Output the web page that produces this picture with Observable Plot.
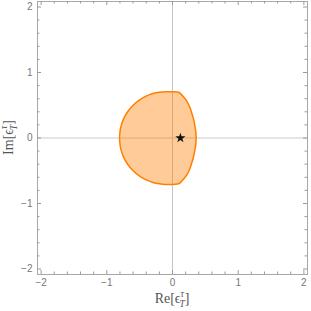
<!DOCTYPE html>
<html><head><meta charset="utf-8">
<script src="https://cdn.jsdelivr.net/npm/d3@7"></script>
<script src="https://cdn.jsdelivr.net/npm/@observablehq/plot@0.6"></script>
<style>body{margin:0;background:#fff} svg{display:block}</style>
</head><body><div id="chart"></div>
<script>
// Region boundary (Re, Im), traced clockwise from the leftmost point
const reBoundary = [-0.807,-0.79,-0.75,-0.68,-0.60,-0.50,-0.40,-0.30,-0.20,-0.10,0.00,0.07,0.10,0.13,0.17,0.22,0.26,0.29,0.32,0.34,0.355,0.36,
  0.355,0.34,0.32,0.29,0.26,0.22,0.17,0.13,0.10,0.07,0.00,-0.10,-0.20,-0.30,-0.40,-0.50,-0.60,-0.68,-0.75,-0.79,-0.807];
const imBoundary = [0,0.155,0.28,0.405,0.50,0.583,0.64,0.678,0.70,0.707,0.707,0.703,0.695,0.67,0.625,0.56,0.48,0.39,0.29,0.19,0.09,0,
  -0.09,-0.19,-0.29,-0.39,-0.48,-0.56,-0.625,-0.67,-0.695,-0.703,-0.71,-0.71,-0.70,-0.678,-0.64,-0.583,-0.50,-0.405,-0.28,-0.155,0];
const starRe = [0.12];
const starIm = [0];
const majorTicks = [-2,-1,0,1,2];
const minorTicks = [-1.8,-1.6,-1.4,-1.2,-0.8,-0.6,-0.4,-0.2,0.2,0.4,0.6,0.8,1.2,1.4,1.6,1.8];

const boundary = reBoundary.map((r,i)=>({re:r, im:imBoundary[i]}));
const stars = starRe.map((r,i)=>({re:r, im:starIm[i]}));

const W=311,H=311,mL=37,mR=4,mT=1,mB=37;
const iW=W-mL-mR, iH=H-mT-mB;
const fmt = d => d<0 ? "\u2212"+(-d) : String(d);
const tickCol="#9a9a9a";

const chart = Plot.plot({
  width:W, height:H, marginLeft:mL, marginRight:mR, marginTop:mT, marginBottom:mB,
  style:{fontFamily:"'Liberation Sans', Arial, sans-serif", background:"#fff"},
  x:{domain:[-2.055,2.055], axis:null},
  y:{domain:[-2.084,2.084], axis:null},
  marks:[
    Plot.ruleY([0],{stroke:"#dcdcdc", strokeWidth:1.6}),
    Plot.ruleX([0],{stroke:"#c4c4c4", strokeWidth:1}),
    Plot.line(boundary,{x:"re", y:"im", fill:"#ff8000", fillOpacity:0.4, stroke:"#ff8000", strokeWidth:1.5, curve:"catmull-rom"}),
    Plot.dot(stars,{x:"re", y:"im", symbol:"star", fill:"#111", r:3.2}),
    Plot.frame({stroke:"#a8a8a8"}),
    // major ticks (inward) on all four sides
    Plot.ruleX(majorTicks,{x:d=>d, insetTop:iH-4, stroke:tickCol}),
    Plot.ruleX(majorTicks,{x:d=>d, insetBottom:iH-4, stroke:tickCol}),
    Plot.ruleY(majorTicks,{y:d=>d, insetRight:iW-4, stroke:tickCol}),
    Plot.ruleY(majorTicks,{y:d=>d, insetLeft:iW-4, stroke:tickCol}),
    // minor ticks
    Plot.ruleX(minorTicks,{x:d=>d, insetTop:iH-2.5, stroke:tickCol}),
    Plot.ruleX(minorTicks,{x:d=>d, insetBottom:iH-2.5, stroke:tickCol}),
    Plot.ruleY(minorTicks,{y:d=>d, insetRight:iW-2.5, stroke:tickCol}),
    Plot.ruleY(minorTicks,{y:d=>d, insetLeft:iW-2.5, stroke:tickCol}),
    Plot.axisX(majorTicks,{anchor:"bottom", tickSize:0, tickPadding:4, tickFormat:fmt, fill:"#777", fontSize:10, label:null}),
    Plot.axisY(majorTicks,{anchor:"left", tickSize:0, tickPadding:5, tickFormat:fmt, fill:"#777", fontSize:10, label:null})
  ]
});
document.getElementById("chart").appendChild(chart);

// Axis titles with stacked sub/superscripts
const svg = d3.select(chart);
function addTitle(g, axis){
  const t = g.append("text").attr("font-family","'Liberation Serif','Times New Roman',serif")
    .attr("font-size",14).attr("fill","#555").attr("text-anchor","middle");
  t.append("tspan").text(axis+"[\u03F5");
  t.append("tspan").attr("font-size",9.5).attr("dy",-6).attr("font-style","italic").text("\u03C4");
  t.append("tspan").attr("font-size",9.5).attr("dx",-4.5).attr("dy",10).attr("font-style","italic").text("T");
  t.append("tspan").attr("dy",-4).text("]");
  return t;
}
const xs = chart.scale("x"), ys = chart.scale("y");
const cx = (xs.apply(-2.055)+xs.apply(2.055))/2;
const cy = (ys.apply(-2.084)+ys.apply(2.084))/2;
addTitle(svg.append("g").attr("transform",`translate(${cx},303)`), "Re");
addTitle(svg.append("g").attr("transform",`translate(13,${cy}) rotate(-90)`), "Im");
</script></body></html>
